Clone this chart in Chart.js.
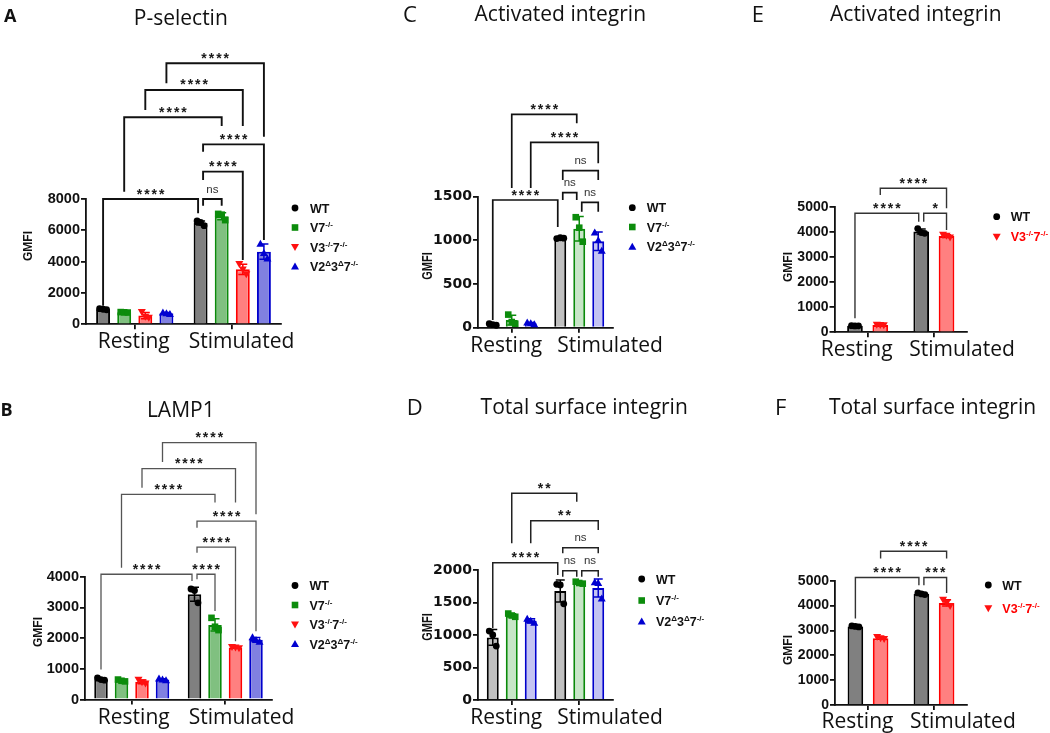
<!DOCTYPE html>
<html>
<head>
<meta charset="utf-8">
<script src="https://cdn.jsdelivr.net/npm/chart.js@4.4.0/dist/chart.umd.min.js"></script>
<style>
  html, body { margin: 0; padding: 0; background: #fff; }
  #page { position: relative; width: 1050px; height: 733px; overflow: hidden; }
  #page canvas { position: absolute; left: 0; top: 0; }
  .t { position: absolute; white-space: nowrap; line-height: 1; color: #111; }
  .os { font-family: 'Open Sans', sans-serif; }
  .ls { font-family: 'Liberation Sans', Arial, sans-serif; font-weight: bold; }
  .t sup { font-size: 8px; vertical-align: 0; position: relative; top: -5px; }
</style>
</head>
<body>
<div id="page"></div>
<script>
// ---------- data ----------
const groups = ['Resting', 'Stimulated'];

// A: P-selectin  (series WT, V7, V3, V2; values [Resting, Stimulated])
const aSeries = ['WT', 'V7', 'V3', 'V2'];
const aMeans = [[960, 6470], [765, 6900], [560, 3510], [700, 4640]];
const aSD = [[40, 130], [20, 220], [200, 330], [50, 480]];
const aPoints = [
  [[1000, 960, 930], [6600, 6500, 6300]],
  [[780, 765, 750], [7050, 7000, 6650]],
  [[790, 480, 420], [3850, 3500, 3200]],
  [[750, 700, 660], [5150, 4550, 4200]]
];
const aTicks = [0, 2000, 4000, 6000, 8000];
// [from bar, to bar, line level, left leg end, right leg end, label]
const aBrackets = [
  [0, 4, 8000, 1190, 7090, '****'],
  [4, 5, 8000, 7570, 7570, 'ns'],
  [4, 6, 9745, 9210, 4105, '****'],
  [4, 7, 11490, 11020, 5380, '****'],
  [1, 5, 13215, 8465, 12660, '****'],
  [2, 6, 14960, 13680, 12660, '****'],
  [3, 7, 16665, 15390, 11980, '****']
];

// B: LAMP1
const bSeries = ['WT', 'V7', 'V3', 'V2'];
const bMeans = [[660, 3430], [615, 2430], [575, 1690], [650, 1950]];
const bSD = [[40, 230], [30, 200], [60, 20], [25, 70]];
const bPoints = [
  [[700, 650, 630], [3600, 3550, 3150]],
  [[650, 610, 590], [2660, 2370, 2260]],
  [[640, 560, 520], [1710, 1690, 1670]],
  [[680, 650, 630], [2030, 1940, 1880]]
];
const bTicks = [0, 1000, 2000, 3000, 4000];
const bBrackets = [
  [0, 4, 4080, 980, 3860, '****'],
  [4, 5, 4080, 3913, 2880, '****'],
  [4, 6, 4965, 4780, 1900, '****'],
  [4, 7, 5813, 5597, 2227, '****'],
  [1, 5, 6683, 4293, 6413, '****'],
  [2, 6, 7521, 6901, 6413, '****'],
  [3, 7, 8368, 7736, 6031, '****']
];

// C: Activated integrin (WT, V7, V2)
const cSeries = ['WT', 'V7', 'V2'];
const cMeans = [[36, 1025], [87, 1132], [50, 990]];
const cSD = [[8, 5], [55, 140], [10, 105]];
const cPoints = [
  [[45, 35, 28], [1020, 1030, 1025]],
  [[150, 65, 45], [1265, 1145, 985]],
  [[60, 50, 40], [1090, 1000, 880]]
];
const cTicks = [0, 500, 1000, 1500];
const cBrackets = [
  [0, 3, 1462, 88, 1153, '****'],
  [3, 4, 1546, 1462, 1462, 'ns'],
  [4, 5, 1436, 1328, 1328, 'ns'],
  [3, 5, 1798, 1691, 1691, 'ns'],
  [2, 5, 2123, 1600, 1882, '****'],
  [1, 4, 2443, 1600, 2340, '****']
];

// D: Total surface integrin (WT, V7, V2)
const dSeries = ['WT', 'V7', 'V2'];
const dMeans = [[963, 1677], [1303, 1803], [1220, 1723]];
const dSD = [[120, 170], [25, 15], [30, 140]];
const dPoints = [
  [[1060, 1000, 830], [1780, 1770, 1480]],
  [[1330, 1300, 1280], [1820, 1800, 1790]],
  [[1250, 1220, 1190], [1810, 1800, 1560]]
];
const dTicks = [0, 500, 1000, 1500, 2000];
const dBrackets = [
  [0, 3, 2113, 1102, 1923, '****'],
  [3, 4, 1990, 1897, 1897, 'ns'],
  [4, 5, 1990, 1897, 1897, 'ns'],
  [3, 5, 2344, 2257, 2257, 'ns'],
  [2, 5, 2759, 2410, 2615, '**'],
  [1, 4, 3180, 2410, 3050, '**']
];

// E: Activated integrin (WT, V3)
const eSeries = ['WT', 'V3'];
const eMeans = [[260, 4030], [290, 3850]];
const eSD = [[10, 100], [10, 55]];
const ePoints = [
  [[265, 255, 260], [4150, 3990, 3960]],
  [[300, 290, 280], [3900, 3860, 3790]]
];
const eTicks = [0, 1000, 2000, 3000, 4000, 5000];
const eBrackets = [
  [0, 2, 4760, 560, 4427, '****'],
  [2, 3, 4760, 4427, 4093, '*'],
  [1, 3, 5760, 5492, 4960, '****']
];

// F: Total surface integrin (WT, V3)
const fSeries = ['WT', 'V3'];
const fMeans = [[3160, 4475], [2690, 4105]];
const fSD = [[20, 35], [45, 125]];
const fPoints = [
  [[3180, 3160, 3140], [4510, 4470, 4440]],
  [[2740, 2690, 2650], [4230, 4100, 3980]]
];
const fTicks = [0, 1000, 2000, 3000, 4000, 5000];
const fBrackets = [
  [0, 2, 5127, 3482, 4819, '****'],
  [2, 3, 5127, 4819, 4510, '***'],
  [1, 3, 6185, 5891, 5891, '****']
];

const legendLabels = {
  WT: 'WT',
  V7: 'V7<sup>-/-</sup>',
  V3: 'V3<sup>-/-</sup>7<sup>-/-</sup>',
  V2: 'V2<sup>Δ</sup>3<sup>Δ</sup>7<sup>-/-</sup>'
};

// ---------- styles / layout ----------
const STYLE = {
  WT: { fill: '#808080', light: '#c0c0c0', line: '#000000', dot: '#000000', shape: 'circle' },
  V7: { fill: '#80c080', light: '#c8e6c8', line: '#0a8a0a', dot: '#0c8c0c', shape: 'square' },
  V3: { fill: '#ff8080', light: '#ff8080', line: '#ff0000', dot: '#ff1010', shape: 'down' },
  V2: { fill: '#8080e0', light: '#c4c4f2', line: '#0000cc', dot: '#0000d0', shape: 'up' }
};
const JIT = [-3.5, 0, 3.5];

const panels = [
  { id: 'A', series: aSeries, means: aMeans, sd: aSD, pts: aPoints, ticks: aTicks, brackets: aBrackets,
    light: false, area: { x0: 86, x1: 281, top: 199, zero: 324.3 }, cat: 0.866, bar: 0.66,
    tickFont: { family: 'Liberation Sans', size: 14.5, weight: 'bold' },
    br: { color: '#111', w: 1.9 }, lab: { shift: -1, gap: 19, base: 24 },
    legend: { mx: 295, tx: 310, rows: [208, 227.5, 247, 266.5] }, legRed: false },
  { id: 'B', series: bSeries, means: bMeans, sd: bSD, pts: bPoints, ticks: bTicks, brackets: bBrackets,
    light: false, area: { x0: 85, x1: 272, top: 576.7, zero: 699.5 }, cat: 0.877, bar: 0.66,
    tickFont: { family: 'Liberation Sans', size: 14.5, weight: 'bold' },
    br: { color: '#555', w: 1.3 }, lab: { shift: 2, gap: 19, base: 24 },
    legend: { mx: 295, tx: 309.5, rows: [585.5, 605, 624.5, 644] }, legRed: false },
  { id: 'C', series: cSeries, means: cMeans, sd: cSD, pts: cPoints, ticks: cTicks, brackets: cBrackets,
    light: true, area: { x0: 478, x1: 613, top: 196.7, zero: 327.7 }, cat: 0.844, bar: 0.63,
    tickFont: { family: 'DejaVu Sans', size: 14, weight: 'bold' },
    br: { color: '#111', w: 1.7 }, lab: { shift: -5.5, gap: 15, base: 24 },
    legend: { mx: 632.3, tx: 646.7, rows: [207.7, 227, 246.7] }, legRed: false },
  { id: 'D', series: dSeries, means: dMeans, sd: dSD, pts: dPoints, ticks: dTicks, brackets: dBrackets,
    light: true, area: { x0: 478, x1: 613, top: 570, zero: 700 }, cat: 0.844, bar: 0.63,
    tickFont: { family: 'DejaVu Sans', size: 14, weight: 'bold' },
    br: { color: '#222', w: 1.5 }, lab: { shift: -5.5, gap: 15, base: 24.3 },
    legend: { mx: 641.7, tx: 656, rows: [579, 600.5, 621.5] }, legRed: false },
  { id: 'E', series: eSeries, means: eMeans, sd: eSD, pts: ePoints, ticks: eTicks, brackets: eBrackets,
    light: false, area: { x0: 834.5, x1: 967, top: 207.3, zero: 332.3 }, cat: 0.764, bar: 0.62,
    tickFont: { family: 'Liberation Sans', size: 14, weight: 'bold' },
    br: { color: '#333', w: 1.4 }, lab: { shift: -11, gap: 16.6, base: 23.4 },
    legend: { mx: 996.7, tx: 1010.7, rows: [216.7, 236.7] }, legRed: true },
  { id: 'F', series: fSeries, means: fMeans, sd: fSD, pts: fPoints, ticks: fTicks, brackets: fBrackets,
    light: false, area: { x0: 835, x1: 967, top: 580.7, zero: 705 }, cat: 0.764, bar: 0.62,
    tickFont: { family: 'Liberation Sans', size: 14, weight: 'bold' },
    br: { color: '#333', w: 1.4 }, lab: { shift: -10.5, gap: 16.6, base: 22.7 },
    legend: { mx: 988.3, tx: 1002.3, rows: [585, 608.3] }, legRed: true }
];

const titles = [
  ['P-selectin', 180.8, 24.5], ['LAMP1', 180.8, 417],
  ['Activated integrin', 560.3, 20.5], ['Total surface integrin', 584.2, 413.5],
  ['Activated integrin', 915.8, 20.5], ['Total surface integrin', 932.5, 413.5]
];
const letters = [
  ['A', 4, 21.5, 18, 700], ['B', 0.5, 416, 18, 700], ['C', 403, 22, 22, 400],
  ['D', 406.7, 414.5, 22, 400], ['E', 751.7, 21.5, 22, 400], ['F', 775, 414.5, 22, 400]
];
const yTitles = [
  [28.3, 246, 12, 1.1], [38, 632, 12, 1.1], [428, 266, 11, 1.25],
  [428, 627, 11, 1.25], [787.7, 267, 12, 1], [787.7, 650, 12, 1]
];

// ---------- drawing helpers ----------
const page = document.getElementById('page');

// place a text so that its baseline sits at 'base'
function put(cls, html, x, base, size, center) {
  const d = document.createElement('div');
  d.className = 't ' + cls;
  d.innerHTML = html;
  d.style.fontSize = size + 'px';
  d.style.left = x + 'px';
  d.style.top = '0px';
  if (center) d.style.transform = 'translateX(-50%)';
  page.appendChild(d);
  const probe = document.createElement('span');
  probe.style.display = 'inline-block';
  probe.style.width = '0px';
  probe.style.height = '0px';
  probe.style.verticalAlign = 'baseline';
  d.appendChild(probe);
  const off = probe.offsetTop;
  d.removeChild(probe);
  d.style.top = (base - off) + 'px';
  return d;
}

function drawMarker(ctx, shape, x, y, color) {
  ctx.fillStyle = color;
  ctx.beginPath();
  if (shape === 'circle') {
    ctx.arc(x, y, 3.4, 0, Math.PI * 2);
  } else if (shape === 'square') {
    ctx.rect(x - 3.3, y - 3.3, 6.6, 6.6);
  } else if (shape === 'down') {
    ctx.moveTo(x - 4, y - 3); ctx.lineTo(x + 4, y - 3); ctx.lineTo(x, y + 4); ctx.closePath();
  } else {
    ctx.moveTo(x - 4, y + 3); ctx.lineTo(x + 4, y + 3); ctx.lineTo(x, y - 4); ctx.closePath();
  }
  ctx.fill();
}

function drawSig(ctx, txt, cx, yl) {
  ctx.textAlign = 'center';
  ctx.textBaseline = 'alphabetic';
  if (txt === 'ns') {
    ctx.font = '11.5px "Liberation Sans"';
    ctx.fillStyle = '#333';
    ctx.fillText(txt, cx, yl - 6.5);
    return;
  }
  ctx.font = 'bold 14px "Liberation Sans"';
  ctx.fillStyle = '#1a1a1a';
  const pitch = 7.4;
  const start = cx - pitch * (txt.length - 1) / 2;
  for (let i = 0; i < txt.length; i++) ctx.fillText(txt[i], start + i * pitch, yl - 0.5);
}

function sigPlugin(p) {
  return {
    id: 'sig' + p.id,
    afterDatasetsDraw(chart) {
      const ctx = chart.ctx, y = chart.scales.y, x = chart.scales.x;
      const n = p.series.length;
      const barX = b => chart.getDatasetMeta(b % n).data[Math.floor(b / n)].x;
      ctx.save();

      // error bars (mean ± SD) and individual points
      p.series.forEach((key, s) => {
        const st = STYLE[key];
        groups.forEach((g, gi) => {
          const cx = chart.getDatasetMeta(s).data[gi].x;
          const m = p.means[s][gi], sd = p.sd[s][gi];
          const yt = y.getPixelForValue(m + sd), yb = y.getPixelForValue(Math.max(0, m - sd));
          ctx.strokeStyle = st.line;
          ctx.lineWidth = 1.5;
          ctx.beginPath();
          ctx.moveTo(cx, yb); ctx.lineTo(cx, yt);
          ctx.moveTo(cx - 4.5, yt); ctx.lineTo(cx + 4.5, yt);
          ctx.moveTo(cx - 4.5, yb); ctx.lineTo(cx + 4.5, yb);
          ctx.stroke();
          p.pts[s][gi].forEach((v, k) => drawMarker(ctx, st.shape, cx + JIT[k], y.getPixelForValue(v), st.dot));
        });
      });

      // significance brackets
      const lefts = new Set(p.brackets.map(b => b[0]));
      const rights = new Set(p.brackets.map(b => b[1]));
      ctx.strokeStyle = p.br.color;
      ctx.lineWidth = p.br.w;
      ctx.lineJoin = 'miter';
      p.brackets.forEach(([b0, b1, lvl, l0, l1, txt]) => {
        const xa = barX(b0) + (rights.has(b0) ? 2.5 : 0);
        const xb = barX(b1) - (lefts.has(b1) ? 2.5 : 0);
        const yl = y.getPixelForValue(lvl);
        ctx.beginPath();
        ctx.moveTo(xa, y.getPixelForValue(l0));
        ctx.lineTo(xa, yl);
        ctx.lineTo(xb, yl);
        ctx.lineTo(xb, y.getPixelForValue(l1));
        ctx.stroke();
        drawSig(ctx, txt, (xa + xb) / 2, yl);
      });

      // group labels
      ctx.font = '21px "Open Sans"';
      ctx.fillStyle = '#111';
      ctx.textBaseline = 'alphabetic';
      const t0 = x.getPixelForTick(0);
      const w0 = ctx.measureText(groups[0]).width;
      const yb = y.getPixelForValue(0) + p.lab.base;
      ctx.textAlign = 'center';
      ctx.fillText(groups[0], t0 + p.lab.shift, yb);
      ctx.textAlign = 'left';
      ctx.fillText(groups[1], t0 + p.lab.shift + w0 / 2 + p.lab.gap, yb);

      // legend markers
      p.series.forEach((key, s) => drawMarker(ctx, STYLE[key].shape, p.legend.mx, p.legend.rows[s], STYLE[key].dot));
      ctx.restore();
    }
  };
}

// ---------- build panels ----------
panels.forEach(p => {
  const cv = document.createElement('canvas');
  cv.width = 1050; cv.height = 733;
  page.appendChild(cv);
  const a = p.area;
  const tk = p.ticks;
  new Chart(cv, {
    type: 'bar',
    data: {
      labels: groups,
      datasets: p.series.map((key, s) => ({
        label: key,
        data: p.means[s],
        backgroundColor: p.light ? STYLE[key].light : STYLE[key].fill,
        borderColor: STYLE[key].line,
        borderWidth: 2,
        categoryPercentage: p.cat,
        barPercentage: p.bar
      }))
    },
    options: {
      responsive: false,
      animation: false,
      layout: { padding: { left: a.x0 - 60, right: 1050 - a.x1, top: a.top, bottom: 733 - a.zero - 10 } },
      plugins: { legend: { display: false }, tooltip: { enabled: false } },
      scales: {
        x: {
          offset: true,
          grid: { offset: false, drawOnChartArea: false, drawTicks: true, tickLength: 5, color: '#111', lineWidth: 1.8 },
          border: { color: '#111', width: 1.8 },
          ticks: { display: false },
          afterFit: s => { s.height = 10; }
        },
        y: {
          min: tk[0],
          max: tk[tk.length - 1],
          ticks: { stepSize: tk[1] - tk[0], font: p.tickFont, color: '#111', padding: 1, callback: v => String(v) },
          grid: { drawOnChartArea: false, drawTicks: true, tickLength: 5, color: '#111', lineWidth: 1.8 },
          border: { color: '#111', width: 1.8 },
          afterFit: s => { s.width = 60; }
        }
      }
    },
    plugins: [sigPlugin(p)]
  });

  // legend text
  p.series.forEach((key, s) => {
    const d = put('ls', legendLabels[key], p.legend.tx, p.legend.rows[s] + 4.5, 12.5, false);
    if (p.legRed && key === 'V3') d.style.color = '#ff0000';
  });
});

titles.forEach(([txt, x, base]) => put('os', txt, x, base, 21, true));
letters.forEach(([txt, x, base, size, w]) => {
  const d = put('os', txt, x, base, size, false);
  d.style.fontWeight = w;
});
yTitles.forEach(([cx, cy, size, sx]) => {
  const d = document.createElement('div');
  d.className = 't ls';
  d.textContent = 'GMFI';
  d.style.fontSize = size + 'px';
  d.style.left = cx + 'px';
  d.style.top = cy + 'px';
  d.style.transform = 'translate(-50%, -50%) scale(' + sx + ', 1) rotate(-90deg)';
  page.appendChild(d);
});
</script>
</body>
</html>
